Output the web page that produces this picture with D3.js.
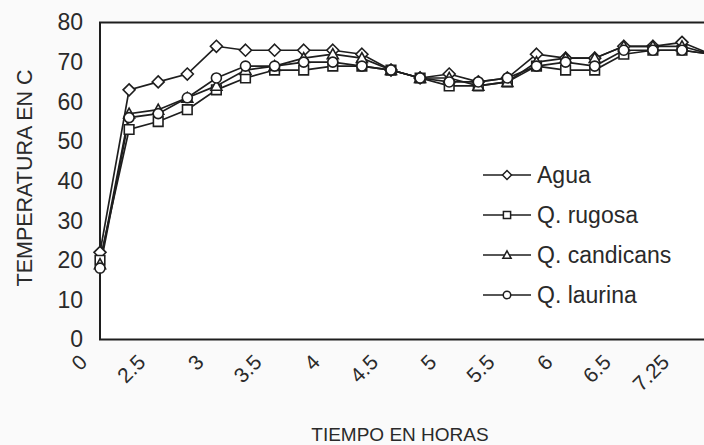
<!DOCTYPE html>
<html>
<head>
<meta charset="utf-8">
<script src="https://cdn.jsdelivr.net/npm/d3@7"></script>
<style>
  html, body { margin: 0; padding: 0; background: #fafafa; }
  svg { display: block; }
  text { font-family: "Liberation Sans", Arial, Helvetica, sans-serif; fill: #2a2a2a; }
</style>
</head>
<body>
<svg id="chart" width="704" height="445"></svg>
<script>
// Tiempo (horas) de cada lectura
const horas = ["0", "2.25", "2.5", "2.75", "3", "3.25", "3.5", "3.75", "4", "4.25", "4.5",
               "4.75", "5", "5.25", "5.5", "5.75", "6", "6.25", "6.5", "7", "7.25", "7.5"];

// Temperatura (°C) por serie
const agua      = [22, 63, 65, 67, 74, 73, 73, 73, 73, 72, 68, 66, 67, 65, 66, 72, 71, 71, 74, 74, 75, 72];
const rugosa    = [20, 53, 55, 58, 63, 66, 68, 68, 69, 69, 68, 66, 64, 64, 65, 69, 68, 68, 72, 73, 73, 72];
const candicans = [19, 57, 58, 61, 64, 68, 69, 71, 72, 71, 68, 66, 66, 64, 65, 70, 71, 71, 74, 74, 74, 72];
const laurina   = [18, 56, 57, 61, 66, 69, 69, 70, 70, 69, 68, 66, 65, 65, 66, 69, 70, 69, 73, 73, 73, 72];

const nombres = ["Agua", "Q. rugosa", "Q. candicans", "Q. laurina"];
const yTicks = [0, 10, 20, 30, 40, 50, 60, 70, 80];

// Marcadores: rombo, cuadrado, triángulo, círculo (size = medio ancho)
const rombo = { draw(c, r) { c.moveTo(0, -r); c.lineTo(r, 0); c.lineTo(0, r); c.lineTo(-r, 0); c.closePath(); } };
const cuadro = { draw(c, r) { c.rect(-r, -r, 2 * r, 2 * r); } };
const triang = { draw(c, r) { c.moveTo(0, -r); c.lineTo(r, r * 0.8); c.lineTo(-r, r * 0.8); c.closePath(); } };
const circ = { draw(c, r) { c.moveTo(r, 0); c.arc(0, 0, r, 0, 2 * Math.PI); } };

const series = [
  { nombre: nombres[0], valores: agua,      forma: rombo,  r: 6 },
  { nombre: nombres[1], valores: rugosa,    forma: cuadro, r: 4.8 },
  { nombre: nombres[2], valores: candicans, forma: triang, r: 5.5 },
  { nombre: nombres[3], valores: laurina,   forma: circ,   r: 5 }
];

const svg = d3.select("#chart");
const ink = "#1e1e1e";

const plotLeft = 100, plotTop = 22.5, plotBottom = 339.5;
const x = d3.scalePoint().domain(horas).range([plotLeft, plotLeft + 29.1 * (horas.length - 1)]);
const y = d3.scaleLinear().domain([0, 80]).range([plotBottom, plotTop]);

// Área de trazado
svg.append("rect")
  .attr("x", plotLeft).attr("y", plotTop)
  .attr("width", 680).attr("height", plotBottom - plotTop)
  .attr("fill", "#ffffff").attr("stroke", ink).attr("stroke-width", 2);

// Eje Y: etiquetas
const yAxis = d3.axisLeft(y).tickValues(yTicks).tickSize(0).tickPadding(17);
const gy = svg.append("g").attr("transform", `translate(${plotLeft},0)`).call(yAxis);
gy.select(".domain").remove();
gy.selectAll("text")
  .style("font-size", "23px")
  .style("font-family", "'Liberation Sans', Arial, sans-serif")
  .attr("fill", "#2a2a2a");

// Eje X: etiquetas inclinadas, una de cada dos categorías
const xAxis = d3.axisBottom(x).tickSize(0).tickFormat((d, i) => i % 2 === 0 ? d : "");
const gx = svg.append("g").attr("transform", `translate(0,${plotBottom})`).call(xAxis);
gx.select(".domain").remove();
gx.selectAll("text")
  .style("font-size", "21px")
  .style("font-family", "'Liberation Sans', Arial, sans-serif")
  .attr("fill", "#2a2a2a")
  .attr("text-anchor", "end")
  .attr("dy", "0")
  .attr("y", 0)
  .attr("transform", "translate(-12,24) rotate(-45)");

// Líneas
const linea = d3.line().x((d, i) => x(horas[i])).y(d => y(d));
series.forEach(s => {
  svg.append("path")
    .attr("d", linea(s.valores))
    .attr("fill", "none")
    .attr("stroke", ink)
    .attr("stroke-width", 1.7);
});

// Marcadores
series.forEach(s => {
  svg.append("g").selectAll("path")
    .data(s.valores)
    .join("path")
    .attr("transform", (d, i) => `translate(${x(horas[i])},${y(d)})`)
    .attr("d", d3.symbol().type(s.forma).size(s.r))
    .attr("fill", "#ffffff")
    .attr("stroke", ink)
    .attr("stroke-width", 1.6);
});

// Leyenda
const legY = [175, 215, 255, 295];
const leg = svg.append("g");
series.forEach((s, k) => {
  const g = leg.append("g").attr("transform", `translate(0,${legY[k]})`);
  g.append("line").attr("x1", 483).attr("x2", 531).attr("y1", 0).attr("y2", 0)
    .attr("stroke", ink).attr("stroke-width", 1.6);
  g.append("path").attr("transform", "translate(507,0)")
    .attr("d", d3.symbol().type(s.forma).size(s.r * 0.75))
    .attr("fill", "#ffffff").attr("stroke", ink).attr("stroke-width", 1.5);
  g.append("text").attr("x", 537).attr("y", 0).attr("dy", "0.35em")
    .style("font-size", "23px").text(s.nombre);
});

// Títulos de los ejes
svg.append("text")
  .attr("transform", "translate(32,178) rotate(-90)")
  .attr("text-anchor", "middle")
  .style("font-size", "21.5px")
  .text("TEMPERATURA EN C");

svg.append("text")
  .attr("x", 400).attr("y", 441)
  .attr("text-anchor", "middle")
  .style("font-size", "19px")
  .text("TIEMPO EN HORAS");
</script>
</body>
</html>
